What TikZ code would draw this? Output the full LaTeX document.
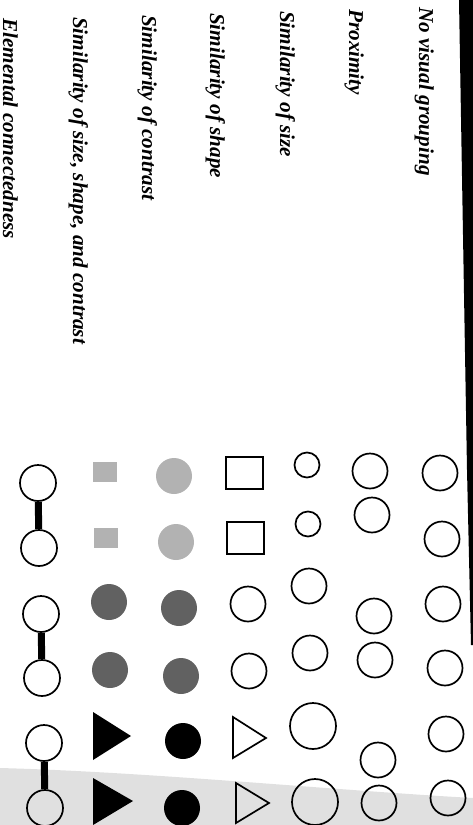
\documentclass[tikz,border=0pt]{standalone}
\usepackage{fontspec}
\setmainfont{Liberation Serif}
\usetikzlibrary{shapes.geometric}
\begin{document}
\begin{tikzpicture}[x=1pt,y=-1pt,
  lbl/.style={anchor=base west, rotate=-90, inner sep=0pt,
    font=\fontsize{21.2}{25}\selectfont\bfseries\itshape},
  ring/.style={circle, draw=black, line width=1.7pt, inner sep=0pt, minimum size=#1},
  disc/.style={circle, fill=#1, inner sep=0pt, minimum size=36pt},
  sq/.style={rectangle, draw=black, line width=1.7pt, inner sep=0pt, minimum width=37pt, minimum height=32pt},
  gsq/.style={rectangle, fill=black!30, inner sep=0pt, minimum width=24pt, minimum height=20pt},
  tri/.style={line width=1.7pt, line join=miter},
  link/.style={line width=7pt, black}]
\useasboundingbox (0,0) rectangle (473,825);
% background speckle and binding shadow
\fill[black!12] (0,768) .. controls (150,772) and (330,790) .. (473,798) -- (473,825) -- (0,825) -- cycle;
\fill[black] (459,0) -- (473,0) -- (473,645) -- (471,645) -- (467,470) -- cycle;
% labels
\node[lbl] (l1) at (419,7) {No visual grouping};
\node[lbl] (l2) at (349,9) {Proximity};
\node[lbl] (l3) at (280,11) {Similarity of size};
\node[lbl] (l4) at (210,13) {Similarity of shape};
\node[lbl] (l5) at (142,15) {Similarity of contrast};
\node[lbl] (l6) at (73,17) {Similarity of size, shape, and contrast};
\node[lbl] (l7) at (3,18) {Elemental connectedness};
% column 1: no visual grouping
\node[ring=35pt] (a1) at (440,473) {};
\node[ring=35pt] (a2) at (442,539) {};
\node[ring=35pt] (a3) at (443,604) {};
\node[ring=35pt] (a4) at (445,668) {};
\node[ring=35pt] (a5) at (446,734) {};
\node[ring=35pt] (a6) at (448,798) {};
% column 2: proximity
\node[ring=35pt] (b1) at (370,471) {};
\node[ring=35pt] (b2) at (372,515) {};
\node[ring=35pt] (b3) at (374,616) {};
\node[ring=35pt] (b4) at (375,660) {};
\node[ring=35pt] (b5) at (378,760) {};
\node[ring=35pt] (b6) at (379,803) {};
% column 3: size
\node[ring=25pt] (c1) at (307,465) {};
\node[ring=25pt] (c2) at (308,524) {};
\node[ring=35pt] (c3) at (309,586) {};
\node[ring=35pt] (c4) at (310,653) {};
\node[ring=46pt] (c5) at (313,726) {};
\node[ring=46pt] (c6) at (315,802) {};
% column 4: shape
\node[sq] (d1) at (244.5,473) {};
\node[sq] (d2) at (245.5,538) {};
\node[ring=35pt] (d3) at (248,604) {};
\node[ring=35pt] (d4) at (249,671) {};
\draw[tri] (233,717) -- (266,738) -- (233,758) -- cycle;
\draw[tri] (236,783) -- (269,803) -- (236,823) -- cycle;
% column 5: contrast
\node[disc=black!30] (e1) at (174,476) {};
\node[disc=black!30] (e2) at (176,542) {};
\node[disc=black!62] (e3) at (179,608) {};
\node[disc=black!62] (e4) at (181,676) {};
\node[disc=black] (e5) at (183,741) {};
\node[disc=black] (e6) at (182,808) {};
% column 6: size, shape, contrast
\node[gsq] (f1) at (105,472) {};
\node[gsq] (f2) at (105.5,537.5) {};
\node[disc=black!62] (f3) at (109,602) {};
\node[disc=black!62] (f4) at (110,670) {};
\fill[black] (93,712) -- (131,736) -- (93,760) -- cycle;
\fill[black] (93,778) -- (133,801) -- (93,825) -- cycle;
% column 7: elemental connectedness
\node[ring=36pt] (g1) at (38,483) {};
\node[ring=36pt] (g2) at (39,548) {};
\node[ring=36pt] (g3) at (41,614) {};
\node[ring=36pt] (g4) at (42,678) {};
\node[ring=36pt] (g5) at (44,743) {};
\node[ring=36pt] (g6) at (45,808) {};
\draw[link] (g1) -- (g2);
\draw[link] (g3) -- (g4);
\draw[link] (g5) -- (g6);
\end{tikzpicture}
\end{document}
